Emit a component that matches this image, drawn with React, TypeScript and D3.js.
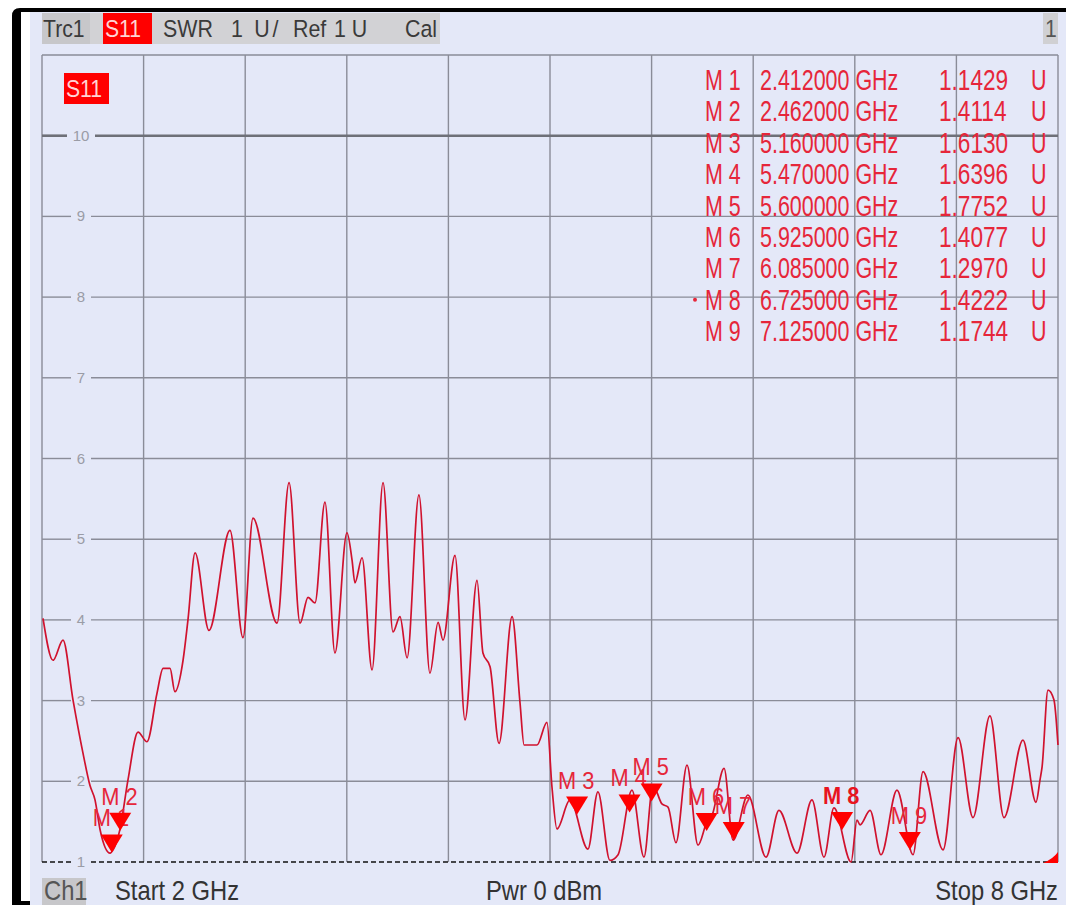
import React from 'react';
import * as d3 from 'd3';

// S11 SWR trace (GHz, U)
const traceFreq = [
  2.006, 2.065, 2.124, 2.183, 2.242, 2.283, 2.313, 2.343, 2.402, 2.42, 2.461, 2.508, 2.567, 2.62, 2.679,
  2.715, 2.756, 2.785, 2.833, 2.862, 2.904, 2.986, 3.11, 3.187, 3.246, 3.388, 3.459, 3.524, 3.571, 3.612,
  3.671, 3.73, 3.801, 3.831, 3.848, 3.89, 3.949, 4.014, 4.073, 4.114, 4.156, 4.226, 4.291, 4.339, 4.368,
  4.439, 4.498, 4.569, 4.604, 4.646, 4.699, 4.776, 4.823, 4.847, 4.923, 4.982, 5.012, 5.041, 5.118, 5.224,
  5.283, 5.354, 5.402, 5.484, 5.555, 5.608, 5.661, 5.697, 5.744, 5.809, 5.874, 5.927, 5.957, 6.028, 6.081,
  6.169, 6.276, 6.352, 6.459, 6.547, 6.618, 6.677, 6.778, 6.813, 6.831, 6.89, 6.955, 7.049, 7.144, 7.203,
  7.321, 7.41, 7.498, 7.598, 7.681, 7.793, 7.87, 7.894, 7.906, 7.941, 7.976, 8.0,
];
const traceSwr = [
  4.02, 3.5, 3.75, 3.01, 2.35, 1.95, 1.77, 1.4, 1.11, 1.15, 1.41, 2.02, 2.61, 2.49, 3.09,
  3.4, 3.4, 3.11, 3.5, 4.0, 4.83, 3.87, 5.11, 3.78, 5.26, 3.96, 5.7, 3.96, 4.28, 4.21,
  5.46, 3.59, 5.08, 4.74, 4.46, 4.77, 3.38, 5.7, 3.85, 4.04, 3.53, 5.55, 3.34, 3.97, 3.75,
  4.8, 2.76, 4.49, 3.59, 3.42, 2.47, 4.04, 2.97, 2.45, 2.45, 2.73, 1.92, 1.41, 1.77, 1.16,
  1.87, 1.02, 1.09, 1.89, 1.06, 1.95, 1.72, 1.68, 1.24, 2.2, 1.21, 1.5, 1.58, 2.16, 1.27,
  1.83, 1.06, 1.64, 1.11, 1.77, 1.06, 1.67, 1.0, 1.52, 1.46, 1.64, 1.09, 1.89, 1.09, 2.12,
  1.15, 2.54, 1.55, 2.81, 1.55, 2.51, 1.74, 2.02, 2.18, 3.13, 3.01, 2.45,
];

// markers
const markerNames = ['M 1', 'M 2', 'M 3', 'M 4', 'M 5', 'M 6', 'M 7', 'M 8', 'M 9'];
const markerFreq = [2.412, 2.462, 5.16, 5.47, 5.6, 5.925, 6.085, 6.725, 7.125];
const markerSwr = [1.1429, 1.4114, 1.613, 1.6396, 1.7752, 1.4077, 1.297, 1.4222, 1.1744];
const activeMarker = 7;

const yTicks = [1, 2, 3, 4, 5, 6, 7, 8, 9, 10];
const refLevel = 1;
const topLevel = 10;
const startGHz = 2;
const stopGHz = 8;
const xDivisions = 10;

const headerParts = ['SWR', '1 U/', 'Ref', '1 U', 'Cal'];
const footerLabels = ['Start  2 GHz', 'Pwr  0 dBm', 'Stop  8 GHz'];

const W = 1066;
const H = 905;
const left = 42;
const right = 1058;
const top = 55;
const bottom = 862;

const font = '"Liberation Sans", Arial, sans-serif';
const red = '#ff0000';
const textRed = '#e6263a';
const gridCol = '#8a8c98';

// text squeezed horizontally, like the instrument's narrow font
const SText = ({ x, y, size, sx = 1, fill = '#333', anchor = 'start', weight = 'normal', ls = 0, children }: any) => (
  <text
    transform={`translate(${x},${y}) scale(${sx},1)`}
    fontSize={size}
    fontFamily={font}
    fill={fill}
    textAnchor={anchor}
    fontWeight={weight}
    letterSpacing={ls}
  >
    {children}
  </text>
);

const App: React.FC = () => {
  const x = d3.scaleLinear().domain([startGHz, stopGHz]).range([left, right]);
  const y = d3.scaleLinear().domain([1, 11]).range([bottom, top]);

  const pts = traceFreq.map((f, i) => [f, traceSwr[i]] as [number, number]);
  const line = d3
    .line<[number, number]>()
    .x((d) => x(d[0]))
    .y((d) => y(d[1]))
    .curve(d3.curveMonotoneX);

  const xGrid = d3.range(xDivisions + 1).map((i) => startGHz + (i * (stopGHz - startGHz)) / xDivisions);
  const labelX = 81;

  const tri = (cx: number, tip: number) => `M${cx - 11},${tip - 18}L${cx + 11},${tip - 18}L${cx},${tip}Z`;

  return (
    <svg width={W} height={H} style={{ position: 'absolute', left: 0, top: 0, background: '#fff' }}>
      {/* frame */}
      <rect x={30} y={12} width={W - 30} height={H - 12} fill="#e4e8f8" />
      <path d={`M12,${H}L12,16Q12,8 20,8L${W},8L${W},12L21,12L21,${H}Z`} fill="#000" />
      <rect x={12} y={H - 4} width={18} height={4} fill="#000" />

      {/* header bar */}
      <rect x={left} y={13} width={398} height={31} fill="#d2d2d5" />
      <rect x={left} y={13} width={48} height={31} fill="#c7c7ca" />
      <rect x={103} y={13} width={49} height={31} fill={red} />
      <SText x={43} y={37} size={23.5} sx={0.9} fill="#3a3a3a">Trc1</SText>
      <SText x={105} y={37} size={23.5} sx={0.9} fill="#ffd4d4">S11</SText>
      <SText x={163} y={37} size={23.5} sx={0.91} fill="#3a3a3a">{headerParts[0]}</SText>
      <SText x={231} y={37} size={23.5} sx={0.91} fill="#3a3a3a" ls={3}>{headerParts[1]}</SText>
      <SText x={293} y={37} size={23.5} sx={0.91} fill="#3a3a3a">{headerParts[2]}</SText>
      <SText x={334} y={37} size={23.5} sx={0.91} fill="#3a3a3a">{headerParts[3]}</SText>
      <SText x={405} y={37} size={23.5} sx={0.91} fill="#3a3a3a">{headerParts[4]}</SText>
      <rect x={1043} y={13} width={15} height={31} fill="#d0d0d3" />
      <SText x={1051} y={37} size={23.5} sx={0.9} anchor="middle" fill="#555">1</SText>

      {/* vertical grid */}
      {xGrid.map((g, i) => (
        <line key={`v${i}`} x1={x(g)} x2={x(g)} y1={top} y2={bottom} stroke={gridCol} strokeWidth={1.4} />
      ))}
      <line x1={left} x2={right} y1={top} y2={top} stroke={gridCol} strokeWidth={1.4} />

      {/* horizontal grid with value labels */}
      {yTicks.map((t) => {
        const yy = y(t);
        const gap = t >= 10 ? 14 : 10;
        const isRef = t === refLevel;
        const isTop = t === topLevel;
        const stroke = isRef ? '#111' : isTop ? '#6e7078' : gridCol;
        const sw = isTop ? 2.6 : 1.4;
        const dash = isRef ? '5,3' : undefined;
        return (
          <g key={`h${t}`}>
            <line x1={left} x2={labelX - gap} y1={yy} y2={yy} stroke={stroke} strokeWidth={sw} strokeDasharray={dash} />
            <line x1={labelX + gap} x2={right} y1={yy} y2={yy} stroke={stroke} strokeWidth={sw} strokeDasharray={dash} />
            <text x={labelX} y={yy + 5} fontSize={15} fontFamily={font} fill="#9a9ca6" textAnchor="middle">
              {t}
            </text>
          </g>
        );
      })}

      {/* S11 tag */}
      <rect x={64} y={73} width={45} height={31} fill={red} />
      <SText x={66} y={97} size={23.5} sx={0.9} fill="#ffd4d4">S11</SText>

      {/* marker table */}
      {markerNames.map((m, i) => {
        const by = 90 + i * 31.4;
        return (
          <g key={`t${i}`}>
            {i === activeMarker && <circle cx={695} cy={by - 10} r={2} fill={textRed} />}
            <SText x={705} y={by} size={29} sx={0.74} fill={textRed}>{m}</SText>
            <SText x={760} y={by} size={29} sx={0.74} fill={textRed}>{`${markerFreq[i].toFixed(6)} GHz`}</SText>
            <SText x={939} y={by} size={29} sx={0.78} fill={textRed}>{markerSwr[i].toFixed(4)}</SText>
            <SText x={1031} y={by} size={29} sx={0.74} fill={textRed}>U</SText>
          </g>
        );
      })}

      {/* trace */}
      <path d={line(pts) || ''} fill="none" stroke="#d0122e" strokeWidth={1.7} strokeLinejoin="round" />

      {/* markers on trace */}
      {markerNames.map((m, i) => {
        const cx = x(markerFreq[i]);
        const tip = y(markerSwr[i]) + 2;
        const bold = i === activeMarker;
        return (
          <g key={`m${i}`}>
            <SText x={cx - 19} y={tip - 26} size={23} sx={0.95} fill={bold ? '#e8141e' : textRed} weight={bold ? 'bold' : 'normal'}>
              {m}
            </SText>
            <path d={tri(cx, tip)} fill={red} />
          </g>
        );
      })}

      {/* out-of-range indicator */}
      <path d={`M${right - 15},${bottom + 1}Q${right - 5},${bottom - 3} ${right},${bottom - 10}L${right},${bottom + 1}Z`} fill={red} />

      {/* footer */}
      <rect x={left} y={878} width={44} height={27} fill="#c7c7ca" />
      <SText x={44} y={900} size={27} sx={0.88} fill="#555">Ch1</SText>
      <SText x={115} y={900} size={27} sx={0.88} fill="#333">{footerLabels[0]}</SText>
      <SText x={486} y={900} size={27} sx={0.88} fill="#333">{footerLabels[1]}</SText>
      <SText x={right} y={900} size={27} sx={0.88} anchor="end" fill="#333">{footerLabels[2]}</SText>
    </svg>
  );
};

export default App;
